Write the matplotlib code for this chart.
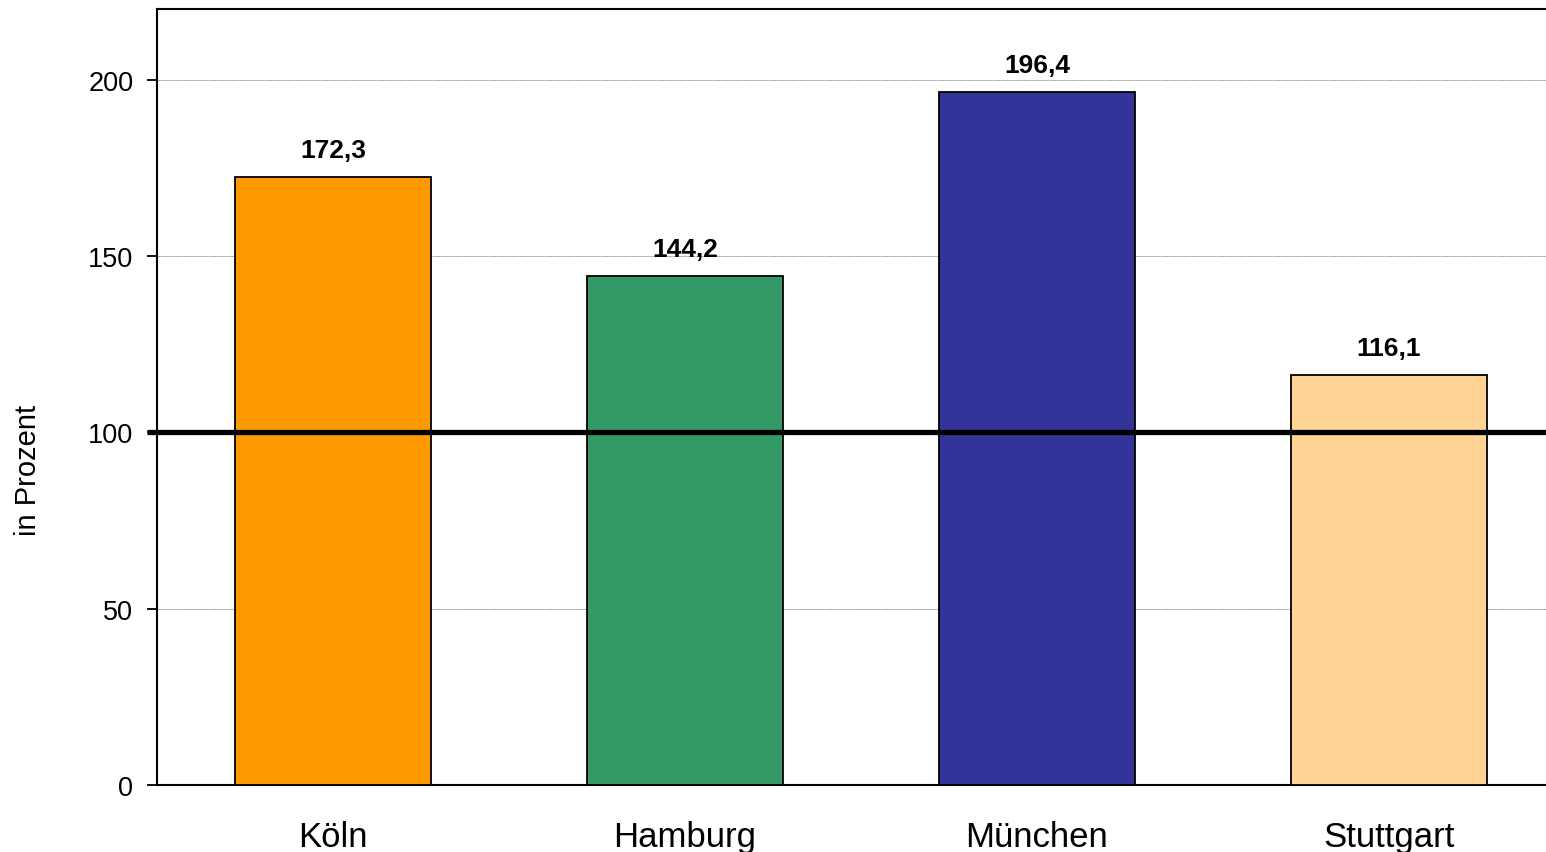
import matplotlib
matplotlib.use("Agg")
import matplotlib.pyplot as plt

plt.rcParams['font.family'] = ['Liberation Sans', 'DejaVu Sans']

cities = ["Köln", "Hamburg", "München", "Stuttgart"]
values = [172.3, 144.2, 196.4, 116.1]
value_labels = ["172,3", "144,2", "196,4", "116,1"]
colors = ["#FF9900", "#339966", "#333399", "#FFD495"]
yticks = [0, 50, 100, 150, 200]
reference = 100

fig = plt.figure(figsize=(15.46, 8.53), dpi=100)
ax = fig.add_axes([157/1546, 67/853, 1408/1546, 776/853])

x = range(len(cities))
ax.bar(x, values, width=0.557, color=colors, edgecolor="black", linewidth=1.3, zorder=3)

ax.set_xlim(-0.5, 3.5)
ax.set_ylim(0, 220)
ax.set_yticks(yticks)
ax.set_yticklabels([str(t) for t in yticks], fontsize=19.5)
ax.tick_params(axis="y", length=7, width=1.3, pad=10, direction="out")
ax.set_xticks(list(x))
ax.set_xticklabels(cities, fontsize=25)
ax.tick_params(axis="x", length=0, pad=25)

ax.grid(axis="y", color="#8c8c8c", linewidth=0.7, linestyle=(0, (1, 0.6)), zorder=0)
for s in ax.spines.values():
    s.set_linewidth(1.5)
    s.set_color("black")

ax.plot([-0.007, 1.0], [reference, reference], transform=ax.get_yaxis_transform(),
        color="black", linewidth=3.8, zorder=4, clip_on=False, solid_capstyle="butt")

for xi, v, lab in zip(x, values, value_labels):
    ax.annotate(lab, (xi, v), xytext=(0, 14.5), textcoords="offset points",
                ha="center", va="baseline", fontsize=19, fontweight="bold", zorder=5)

fig.text(28/1546, 1 - 470/853, "in Prozent", rotation=90, fontsize=21,
         ha="center", va="center")

fig.savefig("out.png", dpi=100)
